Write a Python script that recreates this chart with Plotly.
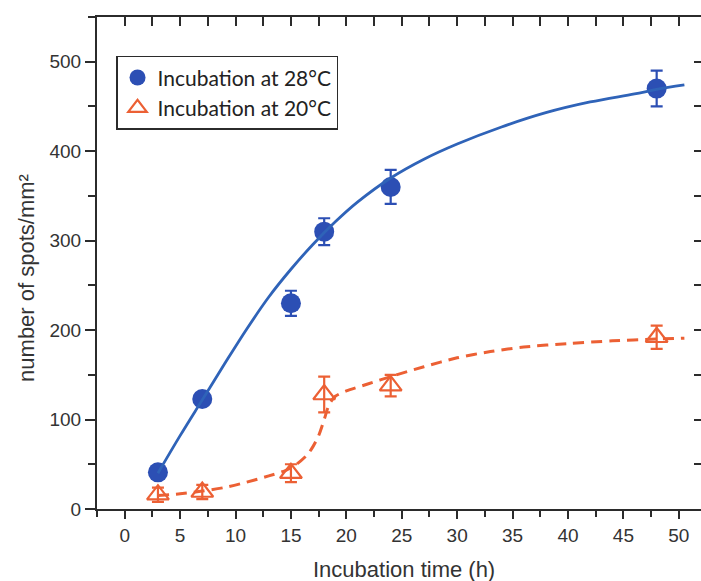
import plotly.graph_objects as go

# --- data ---
time_28 = [3, 7, 15, 18, 24, 48]
spots_28 = [41, 123, 230, 310, 360, 470]
err_28 = [5, 5, 14, 15, 19, 20]

time_20 = [3, 7, 15, 18, 24, 48]
spots_20 = [16, 19, 40, 128, 138, 192]
err_20 = [8, 8, 10, 20, 12, 13]

# fitted curves
fit28_x = [3, 5, 7, 9, 11, 13, 15, 17, 19, 21, 24, 27, 30, 34, 38, 42, 46, 48, 50.5]
fit28_y = [40, 82, 122, 162, 201, 237, 268, 296, 321, 343, 370, 391, 408, 427, 443, 455, 464, 469, 474]

fit20_x = [3, 5, 7, 9, 11, 13, 14.5, 15.5, 16.5, 17, 17.5, 18, 18.3, 18.6, 19, 20, 22, 24, 27,
           30, 33, 36, 40, 44, 48, 50.5]
fit20_y = [15, 17, 20, 24, 30, 37, 43, 50, 61, 70, 82, 100, 112, 120, 126, 132, 140, 148, 159,
           169, 176, 181, 185, 188, 190, 191]

x_ticks = list(range(0, 55, 5))
y_ticks = list(range(0, 600, 100))

BLUE = "#2c4fb4"
BLUE_LINE = "#2f63b8"
ORANGE = "#ec6034"
AXIS = "#2b2b2b"
TXT = "#333333"

fig = go.Figure()

fig.add_trace(go.Scatter(x=fit28_x, y=fit28_y, mode="lines", xaxis="x2", yaxis="y2",
                         line=dict(color=BLUE_LINE, width=2.8, shape="spline", smoothing=1.0),
                         showlegend=False, hoverinfo="skip"))
fig.add_trace(go.Scatter(x=fit20_x, y=fit20_y, mode="lines",
                         line=dict(color=ORANGE, width=3, dash="11px,7px", shape="spline", smoothing=0.8),
                         showlegend=False, hoverinfo="skip"))

fig.add_trace(go.Scatter(
    x=time_28, y=spots_28, mode="markers", name="Incubation at 28°C",
    marker=dict(symbol="circle", size=20, color=BLUE),
    error_y=dict(type="data", array=err_28, color=BLUE, thickness=2.2, width=6)))
fig.add_trace(go.Scatter(
    x=time_20, y=spots_20, mode="markers", name="Incubation at 20°C",
    marker=dict(symbol="triangle-up-open", size=19, color=ORANGE, line=dict(width=2.2, color=ORANGE)),
    error_y=dict(type="data", array=err_20, color=ORANGE, thickness=2.2, width=6)))

tickfont = dict(family="Liberation Sans, Arial", size=19, color=TXT)
titlefont = dict(family="Liberation Sans, Arial", size=22, color=TXT)

fig.update_layout(
    width=701, height=581,
    margin=dict(l=97, r=0, t=17, b=72, autoexpand=False),
    paper_bgcolor="white", plot_bgcolor="white",
    xaxis=dict(range=[-2.5, 52], tickvals=x_ticks, ticks="outside", ticklen=8, tickwidth=2,
               tickcolor=AXIS, showline=True, linecolor=AXIS, linewidth=2, showgrid=False,
               zeroline=False, tickfont=tickfont, automargin=False,
               minor=dict(dtick=2.5, tick0=0, ticks="outside", ticklen=6, tickwidth=2, tickcolor=AXIS)),
    yaxis=dict(range=[0, 550], tickvals=y_ticks, ticks="outside", ticklen=10, tickwidth=2,
               tickcolor=AXIS, showline=True, linecolor=AXIS, linewidth=2, showgrid=False,
               zeroline=False, tickfont=tickfont, automargin=False,
               minor=dict(dtick=50, tick0=0, ticks="outside", ticklen=7, tickwidth=2, tickcolor=AXIS)),
    xaxis2=dict(overlaying="x", side="top", anchor="y", range=[-2.5, 52], dtick=2.5, tick0=0,
                ticks="inside", ticklen=9, tickwidth=2, tickcolor=AXIS, showticklabels=False,
                showline=True, linecolor=AXIS, linewidth=2, showgrid=False, zeroline=False),
    yaxis2=dict(overlaying="y", side="right", anchor="x", range=[0, 550], dtick=50, tick0=0,
                ticks="inside", ticklen=7, tickwidth=2, tickcolor=AXIS, showticklabels=False,
                showline=False, showgrid=False, zeroline=False),
    legend=dict(x=0.0315, y=0.921, xanchor="left", yanchor="top", bgcolor="white",
                bordercolor=AXIS, borderwidth=1.5,
                font=dict(family="Lato, Carlito, Calibri", size=21, color="#222222"),
                itemsizing="trace", tracegroupgap=0),
    annotations=[
        dict(text="Incubation time (h)", xref="paper", yref="paper", x=0.508, y=-0.122,
             xanchor="center", yanchor="middle", showarrow=False, font=titlefont),
        dict(text="number of spots/mm²", xref="paper", yref="paper", x=-0.1177, y=0.4695,
             xanchor="center", yanchor="middle", showarrow=False, textangle=-90, font=titlefont),
    ],
)

fig.write_html("out.html", config={"displayModeBar": False},
               post_script="document.body.style.margin='0';document.body.style.overflow='hidden';")
